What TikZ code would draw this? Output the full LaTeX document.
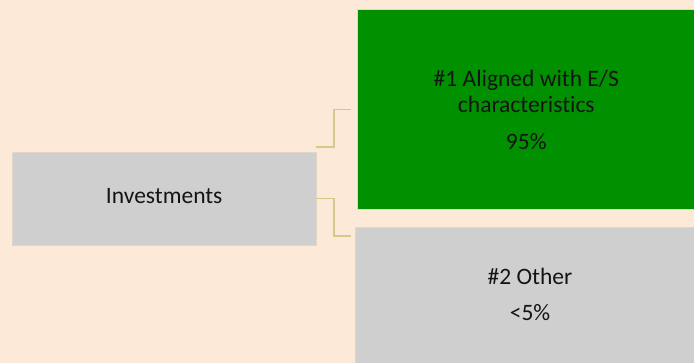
\documentclass[tikz,border=0pt]{standalone}
\usepackage{fontspec}
\setmainfont[Ligatures={NoCommon}]{Carlito}
\usetikzlibrary{calc}
\definecolor{peach}{RGB}{252,233,215}
\definecolor{boxgreen}{RGB}{0,144,0}
\definecolor{boxgray}{RGB}{207,207,207}
\definecolor{connline}{RGB}{213,200,138}
\definecolor{edgeline}{RGB}{225,215,200}
\definecolor{txt}{RGB}{20,20,20}
\tikzset{
  box/.style={draw=edgeline, line width=0.6pt, inner sep=0pt, outer sep=0pt},
  lbl/.style={anchor=base, inner sep=0pt, text=txt, font=\fontsize{23.5}{28}\selectfont},
  conn/.style={draw=connline, line width=1.6pt}
}
\begin{document}
\begin{tikzpicture}[x=1pt,y=-1pt]
\useasboundingbox (0,0) rectangle (694,363);
\fill[peach] (0,0) rectangle (694,363);
% boxes
\path[box, fill=boxgray] (12,152) rectangle (316,245);
\node[inner sep=0pt, minimum width=304pt, minimum height=93pt] (inv) at (164,198.5) {};
\path[box, fill=boxgreen] (357.3,9.7) rectangle (700,209);
\node[inner sep=0pt, minimum width=336.7pt, minimum height=199.3pt] (green) at (525.65,109.35) {};
\path[box, fill=boxgray] (355.7,227.7) rectangle (700,370);
\node[inner sep=0pt, minimum width=338.3pt, minimum height=135.3pt] (other) at (524.85,295.35) {};
% labels
\node[lbl] (tinv) at (164.2,204) {Investments};
\node[lbl] (tg1) at (526.3,86.7) {\#1 Aligned with E/S};
\node[lbl] (tg2) at (526.3,112.5) {characteristics};
\node[lbl] (tg3) at (526.3,149.3) {95\%};
\node[lbl] (to1) at (530,285) {\#2 Other};
\node[lbl] (to2) at (530,321) {<5\%};
% connectors
\coordinate (c1s) at (316,147.3);
\coordinate (c1e) at ($(green.west)+(-6,0)$);
\coordinate (c2e) at (351,236.3);
\draw[conn] (c1s) -- (333.7,147.3) |- (c1e);
\draw[conn] (inv.east) -- (333.7,198.5) |- (c2e);
\end{tikzpicture}
\end{document}
